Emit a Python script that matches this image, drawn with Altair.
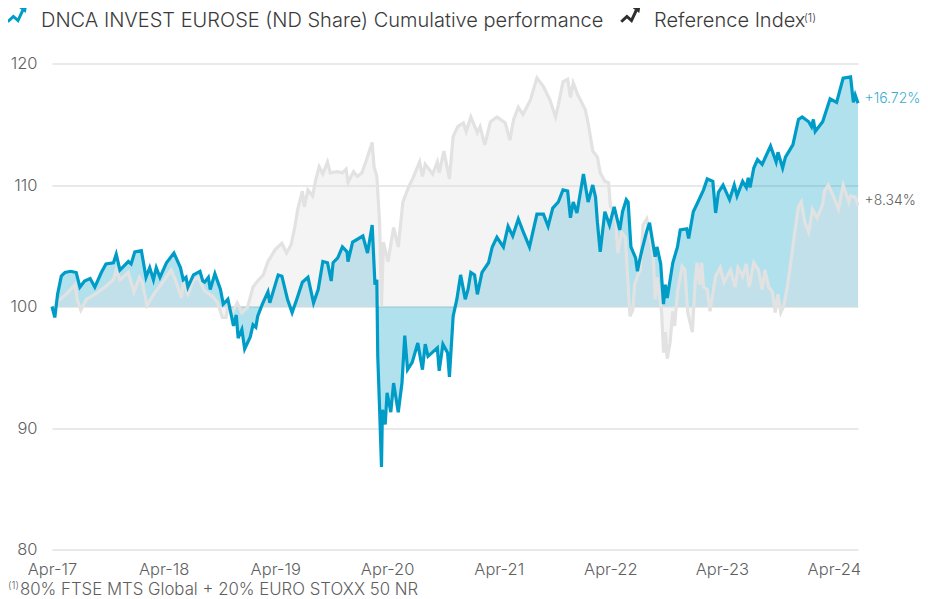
import altair as alt
import pandas as pd

FONT = "Inter"
GREY_TEXT = "#5f5f5f"
DARK_TEXT = "#3a3a3a"
BLUE = "#009cc8"

# months elapsed since the first observation, and base-100 levels
fund_months = [0.0,0.3,0.6,1.0,1.4,2.0,2.6,3.0,3.5,4.1,4.6,5.3,5.8,6.6,6.9,7.3,8.2,8.5,8.9,9.6,10.1,10.5,10.9,11.2,11.6,12.3,13.1,13.8,14.1,14.4,14.6,15.2,15.9,16.2,16.4,16.8,17.0,17.5,18.1,18.4,18.9,19.5,19.8,20.0,20.4,20.7,21.3,21.6,21.9,22.1,22.6,23.2,23.4,24.3,24.7,25.3,25.8,26.3,26.9,27.5,28.1,28.6,29.1,29.6,30.0,30.2,30.7,31.2,31.7,31.8,32.3,33.4,33.9,34.4,34.7,34.9,35.0,35.2,35.4,35.5,35.8,36.0,36.4,36.7,37.2,37.6,37.9,38.2,38.7,39.3,39.8,40.1,40.4,41.4,41.6,42.0,42.5,42.7,43.1,43.5,43.9,44.4,44.7,45.0,45.4,45.7,46.2,46.9,47.3,47.8,48.5,49.0,49.5,50.1,50.6,51.3,52.1,52.8,53.3,53.8,54.4,54.9,55.4,55.7,56.0,56.4,57.1,57.6,58.1,58.4,58.6,58.9,59.4,59.9,60.4,61.0,61.3,61.7,61.9,62.2,62.7,62.9,63.1,63.4,63.9,64.2,64.5,64.8,65.0,65.4,65.7,65.9,66.1,66.7,67.2,67.5,68.2,68.4,68.9,69.4,70.0,70.4,71.0,71.3,71.6,72.1,72.8,73.3,73.6,74.2,74.6,74.8,75.0,75.4,75.8,76.3,77.2,77.8,78.0,78.5,78.8,79.6,80.2,80.6,81.3,81.6,81.8,82.0,82.8,83.6,84.3,85.0,85.8,86.1,86.3,86.6]
fund_values = [100.0,99.1,101.0,102.5,102.8,102.9,102.8,101.6,102.1,102.3,101.6,102.8,103.5,103.6,104.3,103.0,103.7,103.5,104.5,104.6,102.4,103.2,102.2,103.2,102.4,103.6,104.4,103.2,102.2,102.4,101.6,102.6,102.9,102.1,102.0,102.4,101.4,102.7,101.4,100.2,100.6,98.4,99.3,97.4,98.1,96.5,97.5,98.5,98.3,99.2,100.2,101.2,100.3,102.6,102.5,100.6,99.5,100.6,102.0,102.4,100.3,101.4,103.7,103.6,102.1,103.6,104.0,104.9,104.5,103.7,105.3,105.8,104.4,106.7,101.8,102.2,95.9,91.5,86.8,91.5,90.3,92.9,91.3,93.7,91.3,93.7,97.6,94.8,95.4,97.0,94.8,96.9,95.9,96.6,94.7,96.9,96.2,94.2,99.2,100.6,102.6,100.6,101.4,102.8,102.6,101.0,102.8,103.6,104.9,105.7,104.9,106.6,105.8,107.2,106.2,104.9,107.6,107.6,106.6,108.1,108.6,109.6,109.5,107.3,108.6,107.7,110.9,108.6,110.0,109.0,106.9,104.5,107.8,106.7,108.2,106.3,107.8,108.8,108.6,104.9,104.0,102.9,103.7,104.7,106.2,106.9,105.5,104.1,104.9,103.5,100.2,101.8,100.7,103.6,104.9,106.3,106.4,105.6,107.8,108.6,109.6,110.5,110.3,107.7,109.4,110.0,108.8,110.0,109.1,110.3,109.8,110.6,109.8,111.4,112.1,111.7,113.2,111.9,112.7,111.4,112.3,113.3,115.4,115.6,115.2,114.8,115.4,114.4,115.2,117.1,116.8,118.8,118.9,116.8,117.4,116.72]

index_months = [0.0,0.3,0.6,1.5,2.5,2.7,3.1,3.7,4.6,5.7,6.6,6.9,7.3,8.2,8.8,9.4,9.7,10.2,11.1,11.9,12.8,13.3,13.9,14.1,14.6,15.2,15.7,16.4,17.3,17.8,18.3,18.7,18.9,19.4,19.9,20.4,21.0,21.6,22.1,22.7,23.2,24.0,24.7,25.2,25.7,26.1,26.4,26.9,27.1,27.5,28.0,28.3,28.7,29.1,29.6,29.9,30.6,31.2,31.6,31.8,32.4,32.8,33.3,33.8,34.4,34.6,34.9,35.2,35.4,35.5,35.6,36.1,36.7,37.2,37.7,38.3,38.8,39.5,39.8,40.1,40.9,41.4,41.6,42.1,42.7,43.1,43.6,44.2,44.5,45.0,45.7,46.0,46.5,47.1,47.8,48.7,49.2,49.6,50.1,50.6,51.4,52.1,52.8,53.5,54.1,54.4,54.9,55.4,55.7,56.0,56.5,57.3,57.6,58.1,58.6,58.9,59.4,59.8,60.0,60.5,60.8,61.2,61.6,61.8,62.1,62.4,62.6,62.9,63.2,63.5,63.9,64.2,64.6,64.8,65.0,65.5,65.7,65.9,66.1,66.4,66.7,66.9,67.2,67.7,68.0,68.3,68.8,69.1,69.3,69.6,69.8,70.0,70.4,70.7,71.3,71.8,72.2,72.9,73.4,73.7,74.2,74.6,74.9,75.4,75.9,76.3,76.6,77.0,77.4,77.7,78.0,78.3,78.6,79.0,79.3,79.8,80.2,80.5,80.9,81.3,81.7,82.2,82.8,83.0,83.4,84.0,84.5,85.0,85.6,85.8,86.3,86.6]
index_values = [100.0,99.8,100.4,101.0,101.8,100.6,99.7,100.6,101.0,101.6,102.2,103.0,102.2,102.8,101.2,102.4,102.0,100.1,101.2,102.0,103.0,102.1,100.7,102.0,101.0,102.2,102.4,101.3,100.8,100.3,99.1,99.1,100.0,99.5,100.3,99.5,99.9,101.6,102.1,102.6,103.7,104.7,105.2,104.4,105.1,106.6,108.0,109.5,108.2,109.6,109.1,110.3,111.5,110.9,111.9,111.0,111.1,111.0,111.3,110.2,111.1,110.7,111.0,112.1,113.5,111.5,110.7,106.9,100.0,102.5,105.3,103.7,106.5,104.9,108.6,109.8,110.6,111.9,110.7,111.7,110.9,111.9,111.0,112.8,110.5,114.0,114.8,115.1,114.4,115.6,114.3,114.8,113.3,115.2,115.6,115.1,113.7,115.4,116.4,115.8,117.0,118.8,118.1,117.0,115.6,116.6,118.5,118.7,117.2,118.4,117.4,116.2,115.1,112.8,112.3,111.0,110.3,110.2,108.2,107.8,104.4,106.1,105.7,103.0,99.2,99.7,101.8,102.5,103.0,106.7,107.2,105.8,104.1,100.6,102.4,99.5,96.2,97.9,95.7,97.0,99.6,98.4,101.2,103.3,103.0,99.5,97.9,102.0,103.6,101.8,103.6,101.6,101.4,99.6,102.5,103.2,102.0,103.0,101.6,103.2,102.5,103.5,101.6,103.6,103.0,101.4,103.0,101.6,101.2,99.5,101.0,99.5,100.0,101.6,103.2,106.1,108.2,108.6,106.9,106.1,108.0,107.3,108.4,109.5,110.0,109.0,108.0,110.0,108.6,109.1,109.0,108.34]

tick_dates = ["2017-04-03","2018-04-03","2019-04-03","2020-04-03","2021-04-03","2022-04-03","2023-04-03","2024-04-03"]
y_ticks = [80, 90, 100, 110, 120]

START = pd.Timestamp("2017-04-03")
def frame(months, values):
    return pd.DataFrame({
        "date": [START + pd.Timedelta(days=m * 30.44) for m in months],
        "value": values,
        "base": 100,
    })

fund = frame(fund_months, fund_values)
index = frame(index_months, index_values)

x_scale = alt.Scale(domain=["2017-04-03", str((START + pd.Timedelta(days=86.6 * 30.44)).date())], nice=False)
y_scale = alt.Scale(domain=[80, 120], nice=False)

x_enc = alt.X("date:T", scale=x_scale, axis=alt.Axis(
    values=tick_dates, format="%b-%y", title=None, grid=False, domain=False, ticks=False,
    labelFont=FONT, labelFontSize=16.5, labelFontWeight=300, labelColor=GREY_TEXT, labelPadding=12,
    labelAngle=0, labelOverlap=False, labelFlush=False, labelBound=False))
y_enc = alt.Y("value:Q", scale=y_scale, axis=alt.Axis(
    values=y_ticks, title=None, grid=True, gridColor="#e2e2e2", gridWidth=1.4, domain=False, ticks=False,
    labelFont=FONT, labelFontSize=16.5, labelFontWeight=300, labelColor=GREY_TEXT, labelPadding=15))

fund_area = alt.Chart(fund).mark_area(color=BLUE, opacity=0.3).encode(x=x_enc, y=y_enc, y2="base:Q")
index_area = alt.Chart(index).mark_area(color="#dfdfdf", opacity=0.34).encode(x=x_enc, y=y_enc, y2="base:Q")
index_line = alt.Chart(index).mark_line(color="#e2e2e2", strokeWidth=3.2, interpolate="linear").encode(x=x_enc, y=y_enc)
fund_line = alt.Chart(fund).mark_line(color=BLUE, strokeWidth=3.2, interpolate="linear").encode(x=x_enc, y=y_enc)

def text(s, x, y, size, color, align="left", baseline="alphabetic"):
    return alt.Chart(pd.DataFrame({"t": [s]})).mark_text(
        text=s, font=FONT, fontSize=size, fontWeight=300, color=color, align=align, baseline=baseline
    ).encode(x=alt.value(x), y=alt.value(y))

ZIG = "M-1,0.85 L-0.42,0.3 L0.05,0.72 L0.55,-0.35"
HEAD = "M0.2,-0.55 L1,-1 L0.85,-0.05 Z"
def icon(x, y, color):
    zig = alt.Chart(pd.DataFrame({"t": [0]})).mark_point(
        shape=ZIG, size=380, filled=False, stroke=color, strokeWidth=3, opacity=1
    ).encode(x=alt.value(x), y=alt.value(y))
    head = alt.Chart(pd.DataFrame({"t": [0]})).mark_point(
        shape=HEAD, size=380, filled=True, fill=color, stroke=color, strokeWidth=0, opacity=1
    ).encode(x=alt.value(x), y=alt.value(y))
    return zig + head

chart = alt.layer(
    fund_area, index_area, index_line, fund_line,
    icon(-34.5, -50, BLUE),
    text("DNCA INVEST EUROSE (ND Share) Cumulative performance", -11, -36.5, 20, DARK_TEXT),
    icon(579, -50, "#2f2f2f"),
    text("Reference Index", 602, -36.5, 20, DARK_TEXT),
    text("(1)", 752, -42, 11, DARK_TEXT),
    text("+16.72%", 812.5, 35, 14, "#3aaed0", baseline="middle"),
    text("+8.34%", 812.5, 137.5, 14, GREY_TEXT, baseline="middle"),
    text("(1)", -44, 525, 10, GREY_TEXT),
    text("80% FTSE MTS Global + 20% EURO STOXX 50 NR", -32, 531.5, 16.8, GREY_TEXT),
).properties(
    width=806, height=486,
    autosize=alt.AutoSizeParams(type="none"),
    padding={"left": 44, "top": 55.5, "right": 62, "bottom": 50},
    background="white",
).configure_view(stroke=None)

chart.save("out.html", embed_options={"renderer": "svg", "actions": False})
